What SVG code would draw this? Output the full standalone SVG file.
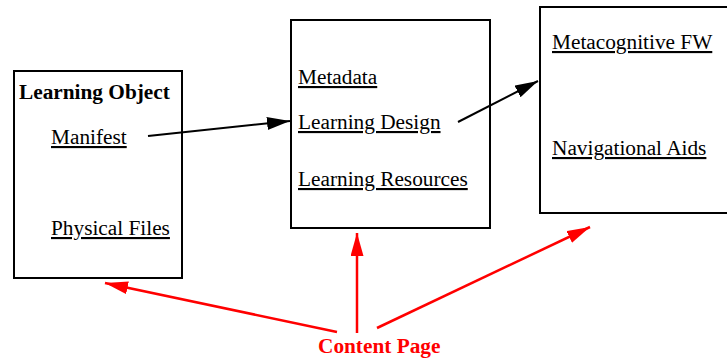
<svg xmlns="http://www.w3.org/2000/svg" width="727" height="358" viewBox="0 0 727 358">
<defs>
<style>
.box{fill:#fff;stroke:#000;stroke-width:2}
.t{font-family:"Liberation Serif","Times New Roman",serif;font-size:21.3px;fill:#000}
.u{text-decoration:underline}
.b{font-weight:bold}
.red{fill:#ff0000}
.k{stroke:#000;stroke-width:2;fill:none}
.r{stroke:#ff0000;stroke-width:2.5;fill:none}
</style>
<marker id="ak" markerUnits="userSpaceOnUse" markerWidth="24" markerHeight="14" refX="23" refY="6.5" orient="auto"><path d="M0,0 L23,6.5 L0,13 Z" fill="#000"/></marker>
<marker id="ar" markerUnits="userSpaceOnUse" markerWidth="24" markerHeight="14" refX="23" refY="6.5" orient="auto"><path d="M0,0 L23,6.5 L0,13 Z" fill="#ff0000"/></marker>
</defs>
<rect width="727" height="358" fill="#fff"/>
<g id="learning-object">
<rect class="box" x="14" y="71" width="168" height="207"/>
<text class="t b" x="19" y="99">Learning Object</text>
<text class="t u" x="51" y="144">Manifest</text>
<text class="t u" x="51" y="235">Physical Files</text>
</g>
<g id="content-structure">
<rect class="box" x="291" y="20" width="199" height="208"/>
<text class="t u" x="298" y="84">Metadata</text>
<text class="t u" x="298" y="129">Learning Design</text>
<text class="t u" x="298" y="186">Learning Resources</text>
</g>
<g id="support">
<rect class="box" x="540" y="7" width="200" height="206"/>
<text class="t u" x="552" y="49">Metacognitive FW</text>
<text class="t u" x="552" y="155">Navigational Aids</text>
</g>
<g id="content-page">
<text class="t b red" x="318" y="353">Content Page</text>
</g>
<g id="connectors">
<line class="k" x1="148" y1="136" x2="290" y2="121" marker-end="url(#ak)"/>
<line class="k" x1="458" y1="122" x2="538" y2="81" marker-end="url(#ak)"/>
<line class="r" x1="337" y1="332" x2="105" y2="283" marker-end="url(#ar)"/>
<line class="r" x1="357" y1="333" x2="357" y2="233" marker-end="url(#ar)"/>
<line class="r" x1="377" y1="328" x2="590" y2="227" marker-end="url(#ar)"/>
</g>
</svg>
